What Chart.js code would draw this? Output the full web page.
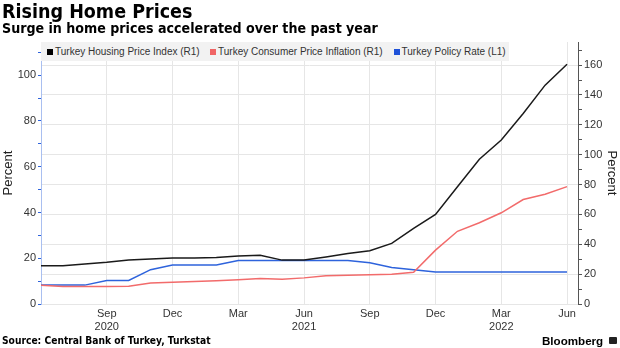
<!DOCTYPE html>
<html>
<head>
<meta charset="utf-8">
<script src="https://cdn.jsdelivr.net/npm/chart.js@4.4.1/dist/chart.umd.min.js"></script>
<style>
  body { margin: 0; background: #fff; }
  #wrap { position: relative; width: 620px; height: 348px; overflow: hidden; font-family: "Liberation Sans", Arial, sans-serif; }
  #grafico { position: absolute; left: 0; top: 0; }
  .txt { position: absolute; white-space: nowrap; line-height: 1; color: #000; font-weight: bold; font-family: "DejaVu Sans Condensed", "DejaVu Sans", sans-serif; }
  #titulo { left: 2px; top: 1.8px; font-size: 19.5px; }
  #subtitulo { left: 2px; top: 21.4px; font-size: 14.1px; }
  #fonte { left: 2px; top: 336.4px; font-size: 10.2px; }
  #marca { left: 542px; top: 334.5px; font-size: 11.6px; font-family: "Liberation Sans", Arial, sans-serif; }
  #icone { position: absolute; left: 609px; top: 337px; width: 8px; height: 7px; background: #222; border-radius: 1px; }
  #legenda { position: absolute; left: 41px; top: 42px; width: 468px; height: 19px; background: #f2f2f2; }
  .quad { position: absolute; top: 6.5px; width: 6px; height: 6px; }
  .rot { position: absolute; top: 0; line-height: 19px; font-size: 10px; color: #333; white-space: nowrap; }
</style>
</head>
<body>
<div id="wrap">
  <canvas id="grafico" width="620" height="348"></canvas>
  <div id="legenda"></div>
  <div class="txt" id="titulo">Rising Home Prices</div>
  <div class="txt" id="subtitulo">Surge in home prices accelerated over the past year</div>
  <div class="txt" id="fonte">Source: Central Bank of Turkey, Turkstat</div>
  <div class="txt" id="marca">Bloomberg</div>
  <div id="icone"></div>
</div>
<script>
// meses (Jun 2020 -> Jun 2022)
const meses = [
  "Jun 2020", "Jul 2020", "Aug 2020", "Sep 2020", "Oct 2020", "Nov 2020", "Dec 2020",
  "Jan 2021", "Feb 2021", "Mar 2021", "Apr 2021", "May 2021", "Jun 2021", "Jul 2021",
  "Aug 2021", "Sep 2021", "Oct 2021", "Nov 2021", "Dec 2021",
  "Jan 2022", "Feb 2022", "Mar 2022", "Apr 2022", "May 2022", "Jun 2022"
];

// Turkey Housing Price Index (R1)
const habitacao = [
  25.6, 25.6, 26.8, 27.9, 29.4, 30.1, 30.8, 30.8, 31.2, 32.1, 32.6, 29.4, 29.4,
  31.5, 33.9, 35.7, 40.6, 50.6, 60.0, 78.5, 97.0, 109.8, 127.6, 146.6, 160.6
];

// Turkey Consumer Price Inflation (R1)
const inflacao = [
  12.6, 11.8, 11.8, 11.7, 11.9, 14.0, 14.6, 15.0, 15.6, 16.2, 17.1, 16.6, 17.5,
  19.0, 19.3, 19.6, 19.9, 21.3, 36.1, 48.7, 54.4, 61.1, 70.0, 73.5, 78.6
];

// Turkey Policy Rate (L1)
const juros = [
  8.25, 8.25, 8.25, 10.25, 10.25, 15, 17, 17, 17, 19, 19, 19, 19,
  19, 19, 18, 16, 15, 14, 14, 14, 14, 14, 14, 14
];

const rotulosX = {
  "Sep 2020": ["Sep", "2020"], "Dec 2020": ["Dec"], "Mar 2021": ["Mar"],
  "Jun 2021": ["Jun", "2021"], "Sep 2021": ["Sep"], "Dec 2021": ["Dec"],
  "Mar 2022": ["Mar", "2022"], "Jun 2022": ["Jun"]
};

const series = [
  { nome: "Turkey Housing Price Index (R1)", dados: habitacao, cor: "#1a1a1a", quad: "#000", eixo: "yR" },
  { nome: "Turkey Consumer Price Inflation (R1)", dados: inflacao, cor: "#f26b6b", quad: "#f06565", eixo: "yR" },
  { nome: "Turkey Policy Rate (L1)", dados: juros, cor: "#2e63dc", quad: "#1f52d8", eixo: "yL" }
];

// legenda
const legenda = document.getElementById("legenda");
const posLegenda = [6, 169, 352.5];
series.forEach((s, i) => {
  const q = document.createElement("div");
  q.className = "quad";
  q.style.left = posLegenda[i] + "px";
  q.style.background = s.quad;
  legenda.appendChild(q);
  const t = document.createElement("div");
  t.className = "rot";
  t.style.left = (posLegenda[i] + 8) + "px";
  t.textContent = s.nome;
  legenda.appendChild(t);
});

Chart.defaults.font.family = "'Liberation Sans', Arial, sans-serif";
Chart.defaults.color = "#333";

const grafico = new Chart(document.getElementById("grafico"), {
  type: "line",
  data: {
    datasets: series.map((s) => ({
      label: s.nome,
      data: s.dados.map((v, i) => ({ x: i, y: v })),
      borderColor: s.cor,
      borderWidth: 1.5,
      pointRadius: 0,
      tension: 0,
      yAxisID: s.eixo
    }))
  },
  options: {
    responsive: false,
    animation: false,
    devicePixelRatio: 1,
    layout: { padding: { top: 42, left: 0, right: 0, bottom: 0 } },
    plugins: { legend: { display: false }, tooltip: { enabled: false } },
    scales: {
      x: {
        type: "linear",
        min: 0,
        max: 24.5,
        afterFit: (eixo) => { eixo.height = 44; },
        border: { display: false },
        grid: {
          drawTicks: false,
          color: (ctx) => (ctx.tick && ctx.tick.value > 0 ? "#e6e6e6" : "rgba(0,0,0,0)")
        },
        ticks: {
          stepSize: 3,
          includeBounds: false,
          autoSkip: false,
          maxRotation: 0,
          padding: 4,
          font: { size: 11, lineHeight: 1.15 },
          color: "#333",
          callback: (v) => rotulosX[meses[v]] || ""
        }
      },
      yL: {
        position: "left",
        min: 0,
        max: 114.5,
        afterFit: (eixo) => { eixo.width = 41; },
        border: { color: "#a9bff0", width: 1 },
        grid: { drawOnChartArea: false, tickLength: 3, tickColor: "#2e63dc" },
        ticks: {
          stepSize: 10,
          maxTicksLimit: 30,
          includeBounds: false,
          autoSkip: false,
          padding: 2,
          font: { size: 11 },
          color: "#333",
          callback: (v) => (v % 20 === 0 ? String(v) : "")
        },
        title: { display: true, text: "Percent", font: { size: 13 }, color: "#222", padding: { top: 1, bottom: 0 } }
      },
      yR: {
        position: "right",
        min: 0,
        max: 175.5,
        afterFit: (eixo) => { eixo.width = 42; },
        border: { color: "#555", width: 1 },
        grid: {
          tickLength: 4,
          tickColor: "#555",
          color: (ctx) => (ctx.tick && ctx.tick.value % 20 === 0 ? "#e6e6e6" : "rgba(0,0,0,0)")
        },
        ticks: {
          stepSize: 10,
          maxTicksLimit: 30,
          includeBounds: false,
          autoSkip: false,
          padding: 2,
          font: { size: 11 },
          color: "#333",
          callback: (v) => (v % 20 === 0 ? String(v) : "")
        },
        title: { display: true, text: "Percent", font: { size: 13 }, color: "#222", padding: { top: 1, bottom: 0 } }
      }
    }
  }
});
</script>
</body>
</html>
